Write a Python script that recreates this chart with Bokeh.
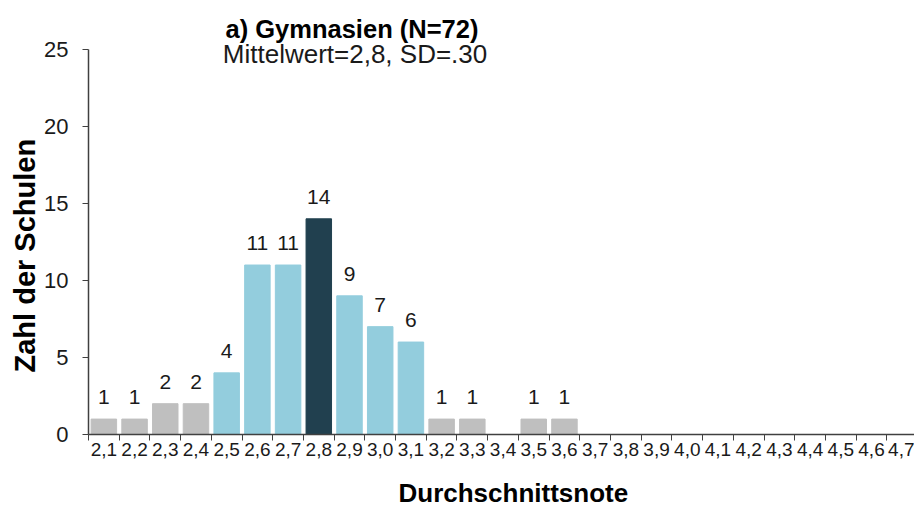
from bokeh.plotting import figure
from bokeh.models import ColumnDataSource, Range1d, FixedTicker, Label, Title
from bokeh.embed import file_html
from bokeh.resources import INLINE
from bokeh.core.properties import value

# ---- data ----
categories = ["2,1", "2,2", "2,3", "2,4", "2,5", "2,6", "2,7", "2,8", "2,9", "3,0",
              "3,1", "3,2", "3,3", "3,4", "3,5", "3,6", "3,7", "3,8", "3,9", "4,0",
              "4,1", "4,2", "4,3", "4,4", "4,5", "4,6", "4,7"]
counts = [1, 1, 2, 2, 4, 11, 11, 14, 9, 7,
          6, 1, 1, 0, 1, 1, 0, 0, 0, 0,
          0, 0, 0, 0, 0, 0, 0]
title_text = "a) Gymnasien (N=72)"
subtitle_text = "Mittelwert=2,8, SD=.30"
x_label = "Durchschnittsnote"
y_label = "Zahl  der  Schulen"
y_ticks = [0, 5, 10, 15, 20, 25]

GRAY = "#BFBFBF"
LIGHT = "#93CDDD"
DARK = "#21404F"
FONT = "Liberation Sans"

centers = [i + 0.5 for i in range(len(categories))]
blue_range = ("2,5", "3,1")
lo = categories.index(blue_range[0])
hi = categories.index(blue_range[1])
mode_idx = counts.index(max(counts))
colors = []
for i in range(len(categories)):
    if i == mode_idx:
        colors.append(DARK)
    elif lo <= i <= hi:
        colors.append(LIGHT)
    else:
        colors.append(GRAY)

src = ColumnDataSource(dict(x=centers, top=counts, color=colors, cat=categories))
lab_idx = [i for i, c in enumerate(counts) if c > 0]
lab_src = ColumnDataSource(dict(x=[centers[i] for i in lab_idx],
                                y=[counts[i] for i in lab_idx],
                                t=[str(counts[i]) for i in lab_idx]))

p = figure(width=914, height=507, output_backend="svg", toolbar_location=None,
           x_range=Range1d(0, 26.9), y_range=Range1d(0, 28.17),
           min_border_left=88, min_border_right=0, min_border_top=0,
           min_border_bottom=72)
p.outline_line_color = None
p.xgrid.grid_line_color = None
p.ygrid.grid_line_color = None
p.background_fill_color = "white"
p.border_fill_color = "white"

p.vbar(x="x", top="top", bottom=0, width=0.83, color="color", source=src)
p.text(x="x", y="y", text="t", source=lab_src, text_align="center",
       text_baseline="alphabetic", y_offset=-22, text_font=value(FONT),
       text_font_size="21px", text_color="#1a1a1a")

# x axis
xa = p.xaxis[0]
xa.ticker = FixedTicker(ticks=centers, minor_ticks=list(range(len(categories) + 1)))
xa.major_label_overrides = {c: lab for c, lab in zip(centers, categories)}
xa.major_tick_line_color = None
xa.major_tick_out = 6
xa.major_tick_in = 0
xa.minor_tick_out = 6
xa.minor_tick_in = 0
xa.minor_tick_line_color = "#404040"
xa.axis_line_color = "#404040"
xa.axis_line_width = 1.5
xa.major_label_standoff = 2
xa.major_label_text_font = FONT
xa.major_label_text_font_size = "19px"
xa.major_label_text_color = "#1a1a1a"
# invisible spacer label to push the axis title further down
xa.axis_label = "\u00a0"
xa.axis_label_text_font_size = "2px"
xa.axis_label_standoff = 12

# y axis
ya = p.yaxis[0]
ya.ticker = FixedTicker(ticks=y_ticks)
ya.bounds = (0, 25)
ya.minor_tick_line_color = None
ya.major_tick_out = 6
ya.major_tick_in = 0
ya.major_tick_line_color = "#404040"
ya.axis_line_color = "#404040"
ya.axis_line_width = 1.5
ya.major_label_standoff = 14
ya.major_label_text_font = FONT
ya.major_label_text_font_size = "22px"
ya.major_label_text_color = "#1a1a1a"

# axis titles as panel titles (for exact placement)
p.add_layout(Title(text=y_label, align="left", offset=62, text_font=FONT,
                   text_font_style="bold", text_font_size="29px",
                   text_color="#000000", standoff=2), "left")
p.add_layout(Title(text=x_label, align="left", offset=310, text_font=FONT,
                   text_font_style="bold", text_font_size="26px",
                   text_color="#000000", standoff=0), "below")

p.add_layout(Label(x=8.58, y=26.30, text=title_text, text_align="center",
                   text_baseline="alphabetic", text_font=FONT,
                   text_font_style="bold", text_font_size="25.5px",
                   text_color="#000000"))
p.add_layout(Label(x=8.68, y=24.68, text=subtitle_text, text_align="center",
                   text_baseline="alphabetic", text_font=FONT,
                   text_font_size="26px", text_color="#1a1a1a"))

open("out.html", "w").write(file_html(p, INLINE))
